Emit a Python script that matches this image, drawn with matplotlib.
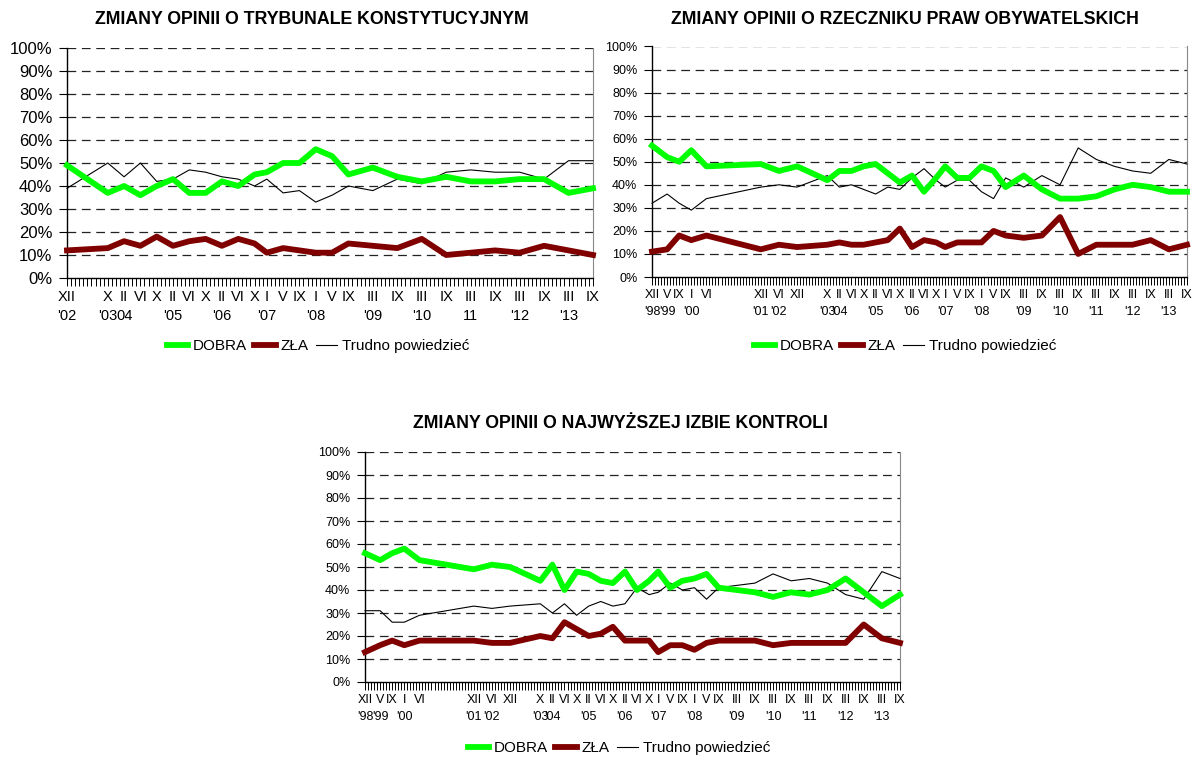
import matplotlib
matplotlib.use("Agg")
import matplotlib.pyplot as plt
import numpy as np

plt.rcParams['font.family'] = ['Liberation Sans', 'DejaVu Sans']

# --- Data: Trybunał Konstytucyjny (XII 2002 - IX 2013) ---
tk_dates = ["2002-12", "2003-10", "2004-02", "2004-06", "2004-10", "2005-02", "2005-06",
            "2005-10", "2006-02", "2006-06", "2006-10", "2007-01", "2007-05", "2007-09",
            "2008-01", "2008-05", "2008-09", "2009-03", "2009-09", "2010-03", "2010-09",
            "2011-03", "2011-09", "2012-03", "2012-09", "2013-03", "2013-09"]
tk_dobra = [49, 37, 40, 36, 40, 43, 37, 37, 42, 40, 45, 46, 50, 50, 56, 53, 45, 48, 44, 42,
            44, 42, 42, 43, 43, 37, 39]
tk_zla = [12, 13, 16, 14, 18, 14, 16, 17, 14, 17, 15, 11, 13, 12, 11, 11, 15, 14, 13, 17,
          10, 11, 12, 11, 14, 12, 10]
tk_trudno = [39, 50, 44, 50, 42, 43, 47, 46, 44, 43, 40, 43, 37, 38, 33, 36, 40, 38, 43, 41,
             46, 47, 46, 46, 43, 51, 51]
tk_month_labels = ["XII", "X", "II", "VI", "X", "II", "VI", "X", "II", "VI", "X", "I", "V", "IX",
                   "I", "V", "IX", "III", "IX", "III", "IX", "III", "IX", "III", "IX", "III", "IX"]
tk_year_labels = ["'02", "'03", "04", "", "", "'05", "", "", "'06", "", "", "'07", "", "",
                  "'08", "", "", "'09", "", "'10", "", "11", "", "'12", "", "'13", ""]

# --- Data: RPO and NIK (XII 1998 - IX 2013) ---
long_dates = ["1998-12", "1999-05", "1999-09", "2000-01", "2000-06", "2001-12", "2002-06",
              "2002-12", "2003-10", "2004-02", "2004-06", "2004-10", "2005-02", "2005-06",
              "2005-10", "2006-02", "2006-06", "2006-10", "2007-01", "2007-05", "2007-09",
              "2008-01", "2008-05", "2008-09", "2009-03", "2009-09", "2010-03", "2010-09",
              "2011-03", "2011-09", "2012-03", "2012-09", "2013-03", "2013-09"]
long_month_labels = ["XII", "V", "IX", "I", "VI", "XII", "VI", "XII", "X", "II", "VI", "X",
                     "II", "VI", "X", "II", "VI", "X", "I", "V", "IX", "I", "V", "IX", "III",
                     "IX", "III", "IX", "III", "IX", "III", "IX", "III", "IX"]
long_year_labels = ["'98", "'99", "", "'00", "", "'01", "'02", "", "'03", "'04", "", "",
                    "'05", "", "", "'06", "", "", "'07", "", "", "'08", "", "", "'09", "",
                    "'10", "", "'11", "", "'12", "", "'13", ""]

rpo_dobra = [57, 52, 50, 55, 48, 49, 46, 48, 42, 46, 46, 48, 49, 45, 41, 44, 37, 43, 48, 43,
             43, 48, 46, 39, 44, 38, 34, 34, 35, 38, 40, 39, 37, 37]
rpo_zla = [11, 12, 18, 16, 18, 12, 14, 13, 14, 15, 14, 14, 15, 16, 21, 13, 16, 15, 13, 15,
           15, 15, 20, 18, 17, 18, 26, 10, 14, 14, 14, 16, 12, 14]
rpo_trudno = [32, 36, 32, 29, 34, 39, 40, 39, 44, 39, 40, 38, 36, 39, 38, 43, 47, 42, 39, 42,
              42, 37, 34, 43, 39, 44, 40, 56, 51, 48, 46, 45, 51, 49]

nik_dobra = [56, 53, 56, 58, 53, 49, 51, 50, 44, 51, 40, 48, 47, 44, 43, 48, 40, 44, 48, 41,
             44, 45, 47, 41, 40, 39, 37, 39, 38, 40, 45, 39, 33, 38]
nik_zla = [13, 16, 18, 16, 18, 18, 17, 17, 20, 19, 26, 23, 20, 21, 24, 18, 18, 18, 13, 16,
           16, 14, 17, 18, 18, 18, 16, 17, 17, 17, 17, 25, 19, 17]
nik_trudno = [31, 31, 26, 26, 29, 33, 32, 33, 34, 30, 34, 29, 33, 35, 33, 34, 41, 38, 39, 43,
              40, 41, 36, 41, 42, 43, 47, 44, 45, 43, 38, 36, 48, 45]

GREEN = "#00ff00"
RED = "#800000"
W, H = 1192, 758


def month_index(dates):
    y0, m0 = int(dates[0][:4]), int(dates[0][5:])
    return np.array([(int(d[:4]) - y0) * 12 + int(d[5:]) - m0 for d in dates])


def px_axes(fig, left, right, top, bottom):
    return fig.add_axes([left / W, 1 - bottom / H, (right - left) / W, (bottom - top) / H])


def draw_panel(ax, dates, dobra, zla, trudno, months, years, fs_y, fs_x, lsp):
    x = month_index(dates)
    n = x[-1]
    l3, = ax.plot(x, trudno, color="black", lw=0.8, clip_on=False, zorder=3)
    l2, = ax.plot(x, zla, color=RED, lw=4.2, clip_on=False, zorder=4)
    l1, = ax.plot(x, dobra, color=GREEN, lw=4.2, clip_on=False, zorder=5)

    ax.set_xlim(0, n)
    ax.set_ylim(0, 100)
    for v in range(10, 101, 10):
        ax.axhline(v, color="#222222", lw=0.9, ls=(0, (7, 4.5)), zorder=1)

    ax.set_yticks(range(0, 101, 10))
    ax.set_yticklabels([f"{v}%" for v in range(0, 101, 10)], fontsize=fs_y)
    ax.tick_params(axis="y", length=5.5, width=0.8, pad=5)

    ax.set_xticks(np.arange(n + 1), minor=True)
    ax.set_xticks(x)
    ax.set_xticklabels([f"{m}\n{y}" for m, y in zip(months, years)],
                       fontsize=fs_x, linespacing=lsp)
    ax.tick_params(axis="x", which="both", direction="out", length=5.5, width=0.7, pad=3)

    ax.spines["top"].set_visible(False)
    ax.spines["right"].set_color("#888888")
    ax.spines["right"].set_linewidth(0.8)
    ax.spines["left"].set_linewidth(1.0)
    ax.spines["bottom"].set_linewidth(1.0)
    return [l1, l2, l3]


fig = plt.figure(figsize=(W / 100, H / 100), dpi=100)
labels = ["DOBRA", "ZŁA", "Trudno powiedzieć"]
legend_kw = dict(loc="center", ncol=3, frameon=False, fontsize=11, handlelength=1.4,
                 handletextpad=0.3, columnspacing=0.5)

# panel 1
ax1 = px_axes(fig, 67, 593, 48, 278)
h = draw_panel(ax1, tk_dates, tk_dobra, tk_zla, tk_trudno, tk_month_labels, tk_year_labels,
               12, 10.5, 1.45)
fig.text(312 / W, 1 - 20 / H, "ZMIANY OPINII O TRYBUNALE KONSTYTUCYJNYM",
         ha="center", va="center", fontsize=12.8, fontweight="bold")
fig.legend(h, labels, bbox_to_anchor=(318 / W, 1 - 346 / H), **legend_kw)

# panel 2
ax2 = px_axes(fig, 652, 1187, 46.5, 277)
h = draw_panel(ax2, long_dates, rpo_dobra, rpo_zla, rpo_trudno, long_month_labels,
               long_year_labels, 9, 9, 1.6)
fig.text(905 / W, 1 - 20 / H, "ZMIANY OPINII O RZECZNIKU PRAW OBYWATELSKICH",
         ha="center", va="center", fontsize=12.8, fontweight="bold")
fig.legend(h, labels, bbox_to_anchor=(905 / W, 1 - 346 / H), **legend_kw)

# panel 3
ax3 = px_axes(fig, 365, 900, 452, 682)
h = draw_panel(ax3, long_dates, nik_dobra, nik_zla, nik_trudno, long_month_labels,
               long_year_labels, 9, 9, 1.6)
fig.text(620 / W, 1 - 424 / H, "ZMIANY OPINII O NAJWYŻSZEJ IZBIE KONTROLI",
         ha="center", va="center", fontsize=12.8, fontweight="bold")
fig.legend(h, labels, bbox_to_anchor=(619 / W, 1 - 748 / H), **legend_kw)

fig.savefig("out.png", dpi=100)
